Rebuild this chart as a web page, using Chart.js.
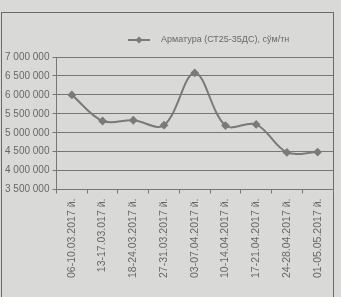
<!DOCTYPE html>
<html>
<head>
<meta charset="utf-8">
<script src="https://cdn.jsdelivr.net/npm/chart.js@4"></script>
<style>
  html, body { margin: 0; padding: 0; background: #d9d9d7; }
  #wrap { position: relative; width: 341px; height: 297px; overflow: hidden; }
  #frame { position: absolute; left: 1px; top: 12px; width: 331px; height: 300px; border: 1px solid #6a6a6a; }
  canvas { position: absolute; left: 0; top: 0; }
</style>
</head>
<body>
<div id="wrap">
  <div id="frame"></div>
  <canvas id="chart1" width="341" height="297"></canvas>
</div>
<script>
const weeks = [
  '06-10.03.2017 й.', '13-17.03.017 й.', '18-24.03.2017 й.', '27-31.03.2017 й.',
  '03-07.04.2017 й.', '10-14.04.2017 й.', '17-21.04.2017 й.', '24-28.04.2017 й.',
  '01-05.05.2017 й.'
];
const prices = [6000000, 5310000, 5330000, 5200000, 6580000, 5190000, 5220000, 4480000, 4490000];
const seriesName = 'Арматура (СТ25-35ДС), сўм/тн';

const ink = '#686868';
const family = 'Liberation Sans, Arial, sans-serif';

// legend drawn like the Excel one: short line with a diamond, then the name
const legendLine = {
  id: 'legendLine',
  afterDraw(chart) {
    const c = chart.ctx;
    const ds = chart.data.datasets[0];
    const y = 40;
    c.save();
    c.strokeStyle = ds.borderColor;
    c.lineWidth = 2;
    c.beginPath();
    c.moveTo(128, y);
    c.lineTo(150, y);
    c.stroke();
    c.fillStyle = ds.borderColor;
    c.beginPath();
    c.moveTo(139, y - 3.5);
    c.lineTo(142.5, y);
    c.lineTo(139, y + 3.5);
    c.lineTo(135.5, y);
    c.closePath();
    c.fill();
    c.fillStyle = ink;
    c.font = '9px ' + family;
    c.textBaseline = 'middle';
    c.fillText(ds.label, 161, y);
    c.restore();
  }
};

const ctx = document.getElementById('chart1').getContext('2d');
new Chart(ctx, {
  type: 'line',
  data: {
    labels: weeks,
    datasets: [{
      label: seriesName,
      data: prices,
      borderColor: '#7a7a7a',
      backgroundColor: '#7a7a7a',
      borderWidth: 2,
      pointStyle: 'rectRot',
      pointRadius: 3,
      tension: 0.35
    }]
  },
  plugins: [legendLine],
  options: {
    responsive: false,
    animation: false,
    layout: { padding: { left: 2, right: 8, top: 57, bottom: 14 } },
    plugins: {
      legend: { display: false },
      tooltip: { enabled: false }
    },
    scales: {
      y: {
        min: 3500000,
        max: 7000000,
        ticks: {
          stepSize: 500000,
          color: ink,
          font: { family: family, size: 10 },
          padding: 3,
          callback: v => v.toLocaleString('en-US').replace(/,/g, ' ')
        },
        grid: { color: '#777', lineWidth: 1, tickLength: 4 },
        border: { color: '#777' }
      },
      x: {
        offset: true,
        ticks: {
          color: ink,
          font: { family: family, size: 10.5 },
          minRotation: 90,
          maxRotation: 90,
          padding: 5
        },
        grid: { drawOnChartArea: false, offset: true, color: '#777', tickLength: 4 },
        border: { color: '#777' }
      }
    }
  }
});
</script>
</body>
</html>
